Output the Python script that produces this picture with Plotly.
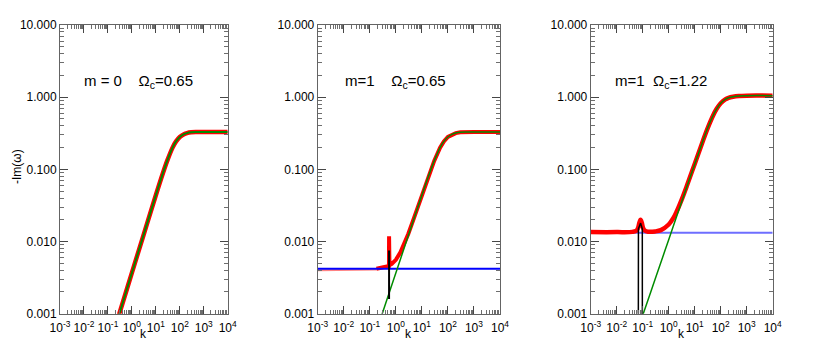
import plotly.graph_objects as go

# ---- data ----
# panel 1 / panel 2 green: growth rate for Omega_c = 0.65
k_065 = [0.25, 0.3, 1, 3, 10, 20, 30, 50, 70, 100, 150, 200, 300, 500, 1000, 10000]
im_065 = [0.00082, 0.001, 0.00367, 0.0120, 0.0438, 0.0896, 0.132, 0.200, 0.244, 0.281,
          0.307, 0.318, 0.326, 0.329, 0.330, 0.330]

# panel 2 red (m=1, Omega_c=0.65), with the narrow spike near k=0.55
k_red2 = [0.18, 0.3, 0.45, 0.53, 0.545, 0.55, 0.555, 0.57, 0.7, 1, 1.5, 2, 3, 5, 10,
          20, 30, 50, 70, 100, 150, 200, 300, 500, 1000, 10000]
im_red2 = [0.0042, 0.0043, 0.0045, 0.0046, 0.0046, 0.0118, 0.0047, 0.0047, 0.00489, 0.00558,
           0.00707, 0.00882, 0.0127, 0.0213, 0.0440, 0.0896, 0.132, 0.200, 0.244, 0.281,
           0.307, 0.318, 0.326, 0.329, 0.330, 0.330]
k_pink2 = [0.001, 0.18]
im_pink2 = [0.0040, 0.0041]
k_blue2 = [0.001, 10000]
im_blue2 = [0.0042, 0.0042]
k_black2 = [0.55, 0.55]
im_black2 = [0.0016, 0.0075]

# panel 3 (m=1, Omega_c=1.22)
k_122 = [0.1, 0.105, 0.316, 1, 3.16, 10, 20, 31.6, 50, 70, 100, 150, 200, 300, 500, 1000, 10000]
im_122 = [0.00095, 0.001, 0.00317, 0.0106, 0.0356, 0.118, 0.240, 0.373, 0.549, 0.69, 0.824,
          0.93, 0.98, 1.016, 1.04, 1.05, 1.05]
k_red3 = [0.001, 0.01, 0.04, 0.055, 0.065, 0.075, 0.083, 0.092, 0.103, 0.12, 0.16, 0.3, 0.5,
          1, 1.5, 2, 3.16, 5, 10, 20, 31.6, 50, 70, 100, 150, 200, 300, 500, 1000, 10000]
im_red3 = [0.0135, 0.0135, 0.0136, 0.0140, 0.0152, 0.0183, 0.0200, 0.0183, 0.0155, 0.0142,
           0.0137, 0.0138, 0.0144, 0.0172, 0.0211, 0.0258, 0.0381, 0.0591, 0.119, 0.240,
           0.373, 0.549, 0.69, 0.824, 0.93, 0.98, 1.016, 1.04, 1.05, 1.05]
k_blue3 = [0.001, 10000]
im_blue3 = [0.0132, 0.0132]
k_black3 = [0.068, 0.0685, 0.083, 0.0965, 0.097]
im_black3 = [0.0009, 0.015, 0.018, 0.015, 0.0009]

# tick labels
x_tickvals = [1e-3, 1e-2, 1e-1, 1, 10, 100, 1000, 10000]
x_ticktext = ['10<sup>-3</sup>', '10<sup>-2</sup>', '10<sup>-1</sup>', '10<sup>0</sup>',
              '10<sup>1</sup>', '10<sup>2</sup>', '10<sup>3</sup>', '10<sup>4</sup>']
y_tickvals = [0.001, 0.01, 0.1, 1, 10]
y_ticktext = ['0.001', '0.010', '0.100', '1.000', '10.000']

labels = ['m = 0\u00a0\u00a0\u00a0\u00a0\u03a9<sub>c</sub>=0.65',
          'm=1\u00a0\u00a0\u00a0\u00a0\u03a9<sub>c</sub>=0.65',
          'm=1\u00a0\u00a0\u03a9<sub>c</sub>=1.22']

RED = 'rgb(255,0,0)'
GREEN = 'rgb(0,140,0)'
FONT = 'Liberation Sans, Arial, sans-serif'
W, H = 818, 346
OFF = 8  # the page body margin shifts the figure by 8px


def px_x(x):
    return (x - OFF) / W


def px_y(y):
    return 1 - (y - OFF) / H


fig = go.Figure()


def add(k, v, color, width, n, shape='linear'):
    fig.add_trace(go.Scatter(x=k, y=v, mode='lines', line=dict(color=color, width=width, shape=shape),
                             xaxis='x' if n == 1 else 'x%d' % n,
                             yaxis='y' if n == 1 else 'y%d' % n,
                             showlegend=False, hoverinfo='skip'))


# panel 1
add(k_065, im_065, RED, 4.5, 1, 'spline')
add(k_065, im_065, GREEN, 2, 1, 'spline')
# panel 2
add(k_pink2, im_pink2, 'rgb(255,130,130)', 2, 2)
add(k_red2, im_red2, RED, 4, 2)
add(k_blue2, im_blue2, 'rgb(0,0,255)', 2, 2)
add(k_065, im_065, GREEN, 1.5, 2, 'spline')
add(k_black2, im_black2, 'black', 2, 2)
# panel 3
add(k_blue3, im_blue3, 'rgb(110,110,255)', 2, 3)
add(k_red3, im_red3, RED, 4.5, 3, 'spline')
add(k_122, im_122, GREEN, 1.5, 3, 'spline')
add(k_black3, im_black3, 'black', 1.5, 3)

minor_x = [m * 10 ** e for e in range(-3, 4) for m in range(2, 10)]
minor_y = [m * 10.0 ** e for e in range(-3, 1) for m in range(2, 10)]

x_domains = [[px_x(60), px_x(227.7)], [px_x(317.7), px_x(500)], [px_x(590.7), px_x(772.7)]]
y_domain = [px_y(313.7), px_y(25)]

layout = dict(
    width=W, height=H,
    margin=dict(l=0, r=0, t=0, b=0, autoexpand=False),
    paper_bgcolor='white', plot_bgcolor='white',
    font=dict(family=FONT, size=12, color='black'),
)
for i in range(3):
    sfx = '' if i == 0 else str(i + 1)
    layout['xaxis' + sfx] = dict(
        type='log', domain=x_domains[i], range=[-3, 4], anchor='y' + sfx, automargin=False,
        tickmode='array', tickvals=x_tickvals, ticktext=x_ticktext,
        ticks='inside', ticklen=8, tickcolor='rgb(70,70,70)', ticklabelstandoff=3,
        minor=dict(tickmode='array', tickvals=minor_x, ticks='inside', ticklen=4,
                   tickcolor='rgb(110,110,110)', showgrid=False),
        showline=True, linecolor='rgb(100,100,100)', linewidth=1, mirror='allticks',
        showgrid=False, zeroline=False, tickfont=dict(size=12, family=FONT),
    )
    layout['yaxis' + sfx] = dict(
        type='log', domain=y_domain, range=[-3, 1], anchor='x' + sfx, automargin=False,
        tickmode='array', tickvals=y_tickvals, ticktext=y_ticktext,
        ticks='inside', ticklen=8, tickcolor='rgb(70,70,70)',
        minor=dict(tickmode='array', tickvals=minor_y, ticks='inside', ticklen=4,
                   tickcolor='rgb(110,110,110)', showgrid=False),
        showline=True, linecolor='rgb(100,100,100)', linewidth=1, mirror='allticks',
        showgrid=False, zeroline=False, tickfont=dict(size=12, family=FONT),
    )

ann = []
label_x = [82, 343, 613]
for i in range(3):
    ann.append(dict(text=labels[i], x=px_x(label_x[i]), y=px_y(82), xref='paper', yref='paper',
                    xanchor='left', yanchor='middle', showarrow=False,
                    font=dict(size=15, family=FONT)))
    ann.append(dict(text='k', x=sum(x_domains[i]) / 2, y=px_y(334), xref='paper', yref='paper',
                    xanchor='center', yanchor='middle', showarrow=False,
                    font=dict(size=12, family=FONT)))
ann.append(dict(text='-Im(\u03c9)', x=px_x(8), y=px_y(167), xref='paper', yref='paper',
                textangle=-90, xanchor='left', yanchor='middle', showarrow=False,
                font=dict(size=12, family=FONT)))
layout['annotations'] = ann

fig.update_layout(layout)
fig.write_html('out.html')
